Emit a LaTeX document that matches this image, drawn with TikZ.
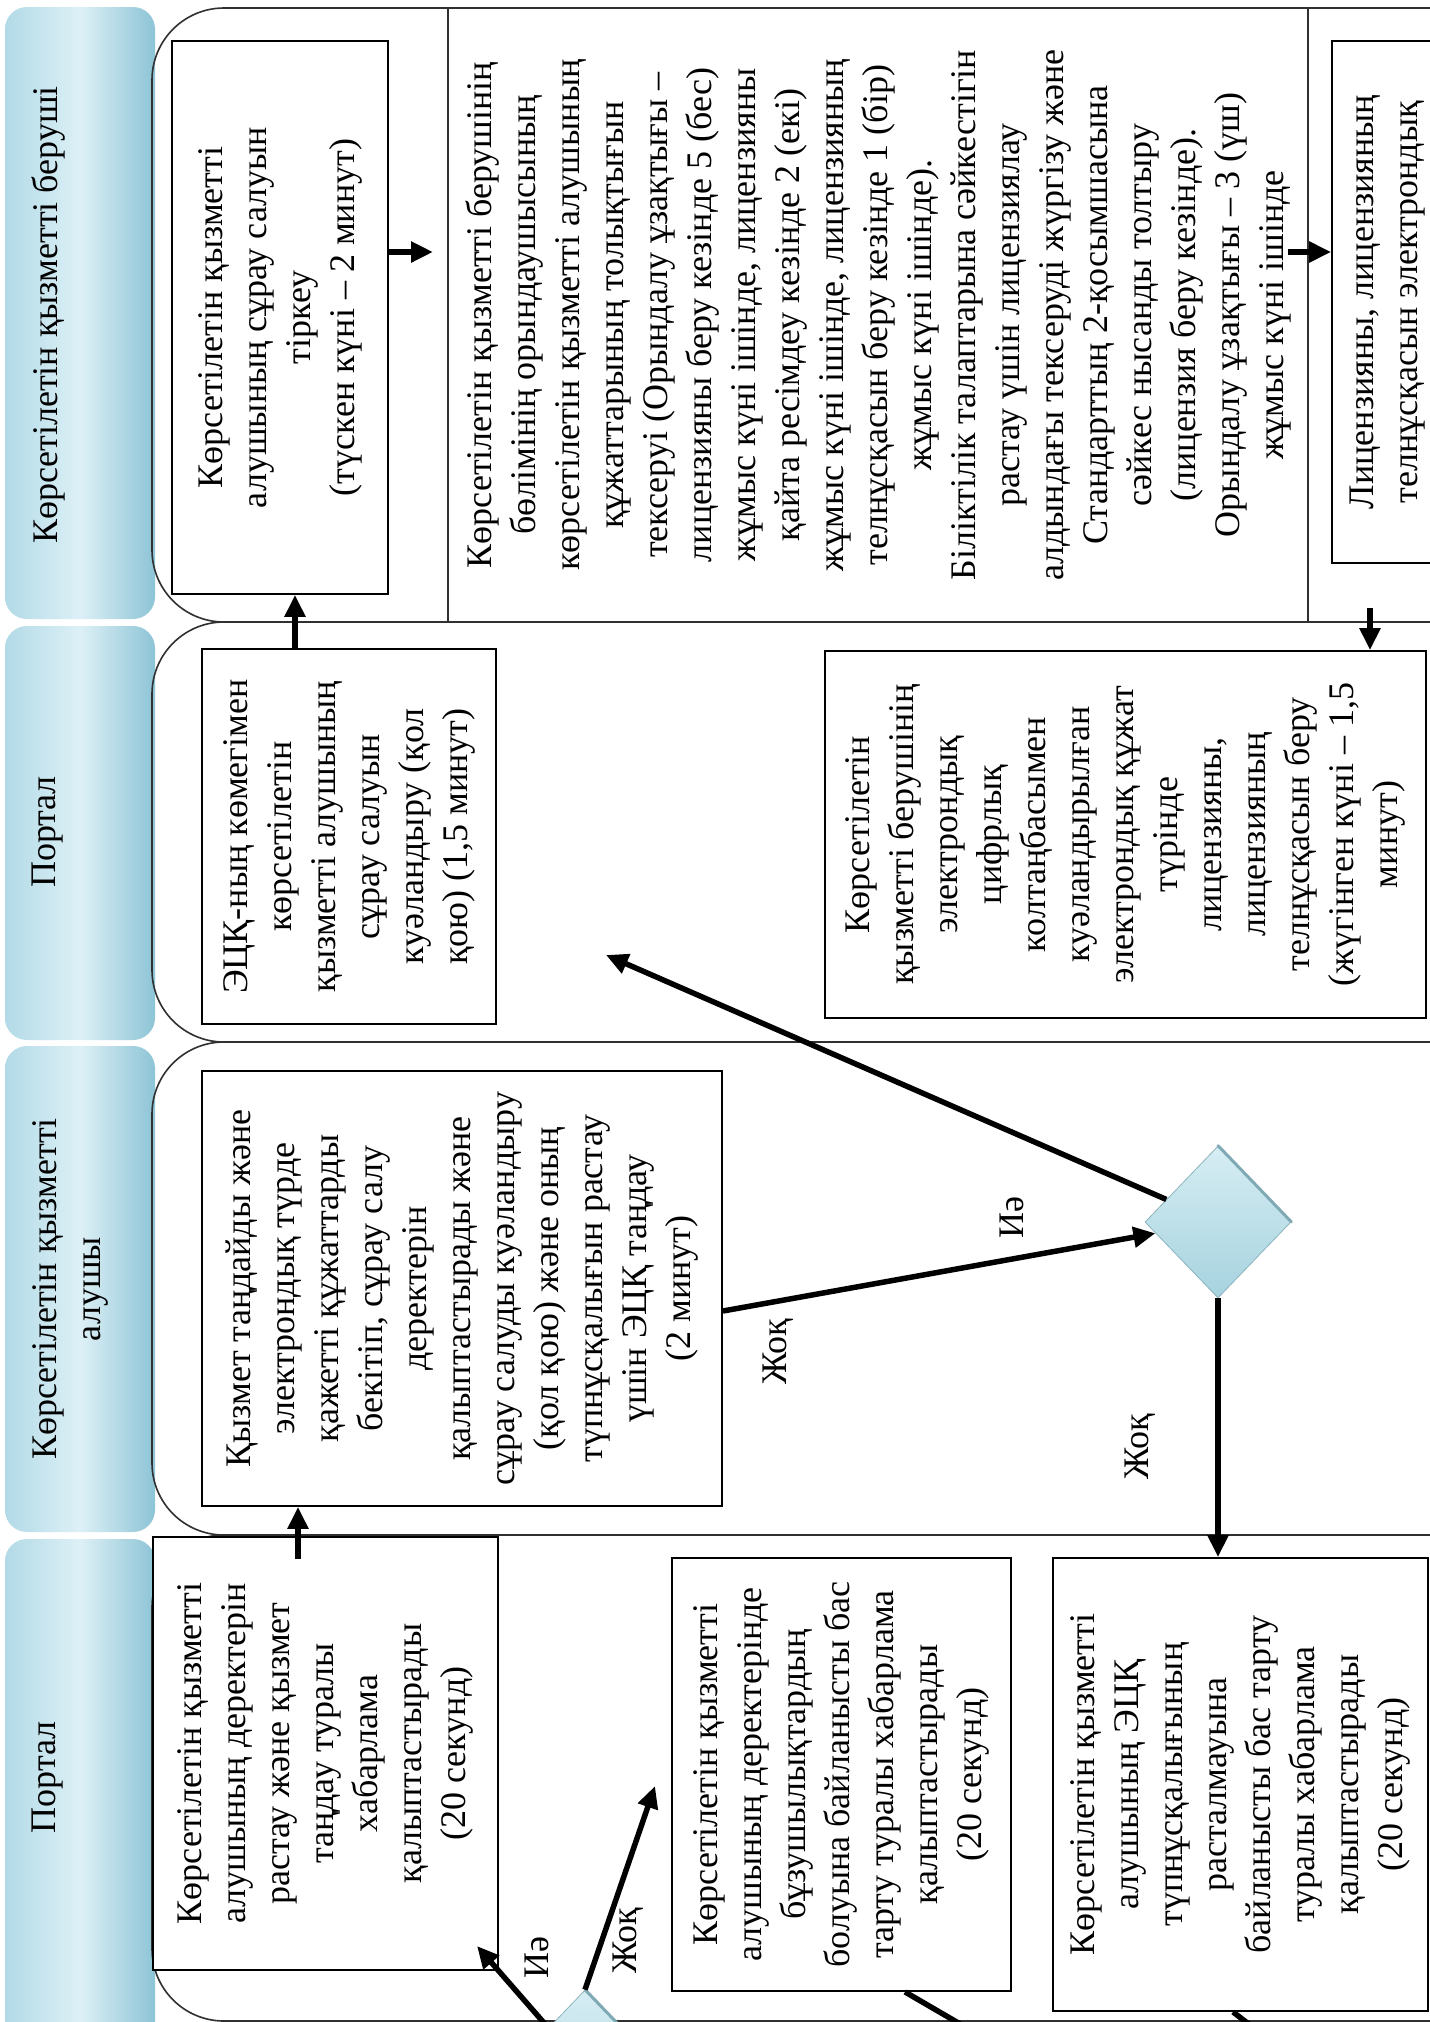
\documentclass[tikz,border=0pt]{standalone}
\usepackage{fontspec}
\setmainfont{Liberation Serif}
\usetikzlibrary{shapes.geometric,arrows.meta,calc}
\definecolor{hdrL}{HTML}{B2DAE7}
\definecolor{hdrM}{HTML}{DDF0F6}
\definecolor{hdrR}{HTML}{8DC4D6}
\definecolor{diaA}{HTML}{D6EDF3}
\definecolor{diaB}{HTML}{A6D3DF}
\definecolor{diaE}{HTML}{7FA9B5}
\definecolor{laneC}{HTML}{303030}
\newcommand\bodyfs{\fontsize{36}{44}\selectfont}
\tikzset{
  hdr/.style={rounded corners=22pt, left color=hdrL, right color=hdrR, middle color=hdrM, draw=none},
  lane/.style={draw=laneC, line width=1.6pt, rounded corners=72pt},
  divider/.style={draw=laneC, line width=1.8pt},
  box/.style={draw=black, line width=1.8pt, fill=white, rectangle, rotate=90, inner sep=0pt, align=center, font=\bodyfs},
  txt/.style={rotate=90, inner sep=0pt, align=center, font=\bodyfs},
  arr/.style={line width=5.5pt, -{Triangle[length=22pt,width=20pt]}},
  conn/.style={line width=5.5pt},
  dia/.style={diamond, aspect=1, inner sep=0pt, minimum width=146pt, minimum height=152pt, top color=diaA, bottom color=diaB, draw=diaB!85!black, line width=0.8pt}
}
\begin{document}
\begin{tikzpicture}[x=1pt,y=-1pt]
\useasboundingbox (0,0) rectangle (1430,2022);
\fill[white] (0,0) rectangle (1430,2022);
\clip (0,0) rectangle (1430,2022);

% headers
\path[hdr] (5,7) rectangle (155,619);
\path[hdr] (5,626) rectangle (155,1040);
\path[hdr] (5,1046) rectangle (155,1532);
\path[hdr] (5,1539) rectangle (155,2060);
\node[txt, anchor=north] (h1) at (32,315) {Көрсетілетін қызметті беруші};
\node[txt, anchor=north] (h2) at (32,832) {Портал};
\node[txt, anchor=north] (h3) at (32,1289) {Көрсетілетін қызметті\\алушы};
\node[txt, anchor=north] (h4) at (32,1777) {Портал};

% lanes
\draw[lane] (152,8) rectangle (1600,622);
\draw[lane] (152,622) rectangle (1600,1042);
\draw[lane] (152,1042) rectangle (1600,1535);
\draw[lane] (152,1535) rectangle (1600,2021);
\draw[divider] (448,8) -- (448,622);
\draw[divider] (1308,8) -- (1308,622);

% lane 1
\node[box, minimum width=553pt, minimum height=216pt] (b1) at (280,317.5)
  {Көрсетілетін қызметті\\алушының сұрау салуын\\тіркеу\\(түскен күні – 2 минут)};
\node[txt] (t2) at (878,315)
  {Көрсетілетін қызметті берушінің\\бөлімінің орындаушысының\\көрсетілетін қызметті алушының\\құжаттарының толықтығын\\тексеруі (Орындалу ұзақтығы –\\лицензияны беру кезінде 5 (бес)\\жұмыс күні ішінде, лицензияны\\қайта ресімдеу кезінде 2 (екі)\\жұмыс күні ішінде, лицензияның\\телнұсқасын беру кезінде 1 (бір)\\жұмыс күні ішінде).\\Біліктілік талаптарына сәйкестігін\\растау үшін лицензиялау\\алдындағы тексеруді жүргізу және\\Стандарттың 2-қосымшасына\\сәйкес нысанды толтыру\\(лицензия беру кезінде).\\Орындалу ұзақтығы – 3 (үш)\\жұмыс күні ішінде};
\node[box, minimum width=522pt, minimum height=300pt] (b3) at (1482,302) {};
\node[txt, anchor=north] (t3) at (1350,302) {Лицензияны, лицензияның\\телнұсқасын электрондық};

% lane 2
\node[box, minimum width=375pt, minimum height=294pt] (ecq) at (349,836.5)
  {ЭЦҚ-ның көмегімен\\көрсетілетін\\қызметті алушының\\сұрау салуын\\куәландыру (қол\\қою) (1,5 минут)};
\node[box, minimum width=367pt, minimum height=601pt] (b5) at (1125.5,834.5)
  {Көрсетілетін\\қызметті берушінің\\электрондық\\цифрлық\\колтаңбасымен\\куәландырылған\\электрондық құжат\\түрінде\\лицензияны,\\лицензияның\\телнұсқасын беру\\(жүгінген күні – 1,5\\минут)};

% lane 3
\node[box, minimum width=435pt, minimum height=520pt] (b6) at (462,1288.5)
  {Қызмет таңдайды және\\электрондық түрде\\қажетті құжаттарды\\бекітіп, сұрау салу\\деректерін\\қалыптастырады және\\сұрау салуды куәландыру\\(қол қою) және оның\\түпнұсқалығын растау\\үшін ЭЦҚ таңдау\\(2 минут)};

% lane 4
\node[box, minimum width=433pt, minimum height=345pt] (bA) at (325.5,1753.5)
  {Көрсетілетін қызметті\\алушының деректерін\\растау және қызмет\\таңдау туралы\\хабарлама\\қалыптастырады\\(20 секунд)};
\node[box, minimum width=433pt, minimum height=339pt] (bB) at (841.5,1774.5)
  {Көрсетілетін қызметті\\алушының деректерінде\\бұзушылықтардың\\болуына байланысты бас\\тарту туралы хабарлама\\қалыптастырады\\(20 секунд)};
\node[box, minimum width=453pt, minimum height=375pt] (bC) at (1240.5,1784.5)
  {Көрсетілетін қызметті\\алушының ЭЦҚ\\түпнұсқалығының\\расталмауына\\байланысты бас тарту\\туралы хабарлама\\қалыптастырады\\(20 секунд)};

% diamonds
\node[dia] (d1) at (1218,1222) {};
\draw[diaE, line width=3pt, line cap=round] (d1.north) -- (d1.east);
\node[dia] (d2) at (585,2066) {};
\draw[diaE, line width=3pt, line cap=round] (d2.north) -- (d2.east);

% connectors
\coordinate (c1) at (433,252);
\draw[arr] (b1.south |- c1) -- (c1);
\coordinate (c2) at (1288,252);
\draw[arr] (c2) -- (c2 -| b3.north);
\coordinate (c3) at (1370,608);
\draw[arr] (c3) -- (c3 |- b5.east);
\coordinate (x1) at (295,0);
\draw[arr] (ecq.east -| x1) -- (b1.west -| x1);
\coordinate (x2) at (298,0);
\draw[arr] ($(bA.east -| x2)+(0,23)$) -- (b6.west -| x2);
\coordinate (c4) at (606,955);
\draw[arr] (d1) -- (c4);
\coordinate (y5) at (0,1311);
\draw[arr] (b6.south |- y5) -- (d1);
\draw[arr] (d1.south) -- (d1.south |- bC.east);
\coordinate (c6) at (477,1946);
\draw[arr] (d2.north west) -- (c6);
\coordinate (c8) at (655,1786);
\draw[arr] (d2.north) -- (c8);
\coordinate (x9) at (905,0);
\coordinate (e9) at (1010,2053);
\draw[conn] (bB.west -| x9) -- (e9);
\coordinate (x10) at (1233,0);
\coordinate (e10) at (1290,2056);
\draw[conn] (bC.west -| x10) -- (e10);

% labels
\node[txt] (l1) at (1012,1217) {Иә};
\node[txt] (l2) at (778,1352) {Жоқ};
\node[txt] (l3) at (1140,1447) {Жоқ};
\node[txt] (l4) at (537,1957) {Иә};
\node[txt] (l5) at (628,1941) {Жоқ};
\end{tikzpicture}
\end{document}
